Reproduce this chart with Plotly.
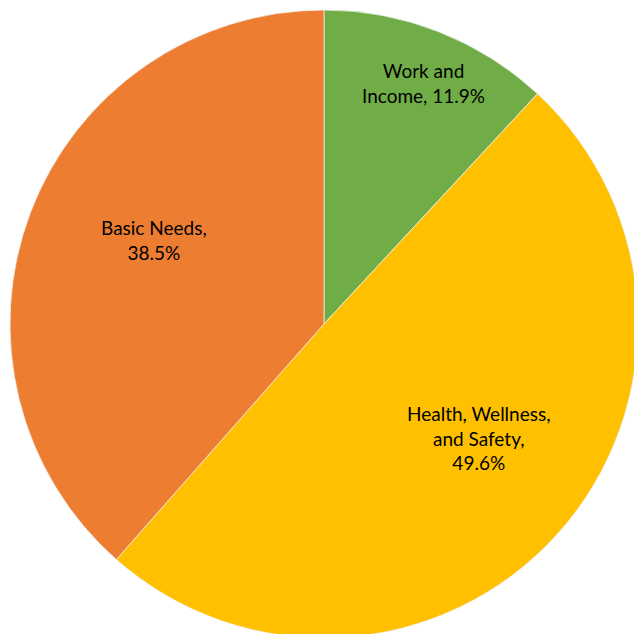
import math
import plotly.graph_objects as go

categories = ["Work and Income", "Health, Wellness, and Safety", "Basic Needs"]
values = [11.9, 49.6, 38.5]
label_texts = ["Work and<br>Income, 11.9%", "Health, Wellness,<br>and Safety,<br>49.6%", "Basic Needs,<br>38.5%"]
colors = ["#70AD47", "#FFC000", "#ED7D31"]
label_radius = [0.831, 0.613, 0.604]
label_angle_shift = [0.9, -5.8, 5.6]

W, H = 648, 648
M = 10

fig = go.Figure(go.Pie(
    labels=categories,
    values=values,
    sort=False,
    direction="clockwise",
    rotation=0,
    marker=dict(colors=colors, line=dict(color="#F2F2F2", width=0.75)),
    textinfo="none",
    hoverinfo="label+percent",
    showlegend=False,
    domain=dict(x=[0, 1], y=[0, 1]),
))

total = sum(values)
cum = 0.0
pw, ph = W - 2 * M, H - 2 * M
r = min(pw, ph) / 2
for v, txt, rf, sh in zip(values, label_texts, label_radius, label_angle_shift):
    mid = (cum + v / 2) / total * 360 + sh
    cum += v
    a = math.radians(mid)
    dx = rf * r * math.sin(a)
    dy = rf * r * math.cos(a)
    fig.add_annotation(
        x=0.5 + dx / pw, y=0.5 + dy / ph, xref="paper", yref="paper",
        xanchor="center", yanchor="middle",
        text=txt, showarrow=False, align="center",
        font=dict(family="Lato, Calibri, sans-serif", size=19, color="#000000"),
    )

fig.update_layout(
    width=W, height=H,
    margin=dict(l=M, r=M, t=M, b=M),
    paper_bgcolor="white", plot_bgcolor="white",
)

fig.write_html(
    "out.html",
    config={"displayModeBar": False},
    post_script="document.body.style.margin='0';document.documentElement.style.overflow='hidden';document.body.style.overflow='hidden';",
)
